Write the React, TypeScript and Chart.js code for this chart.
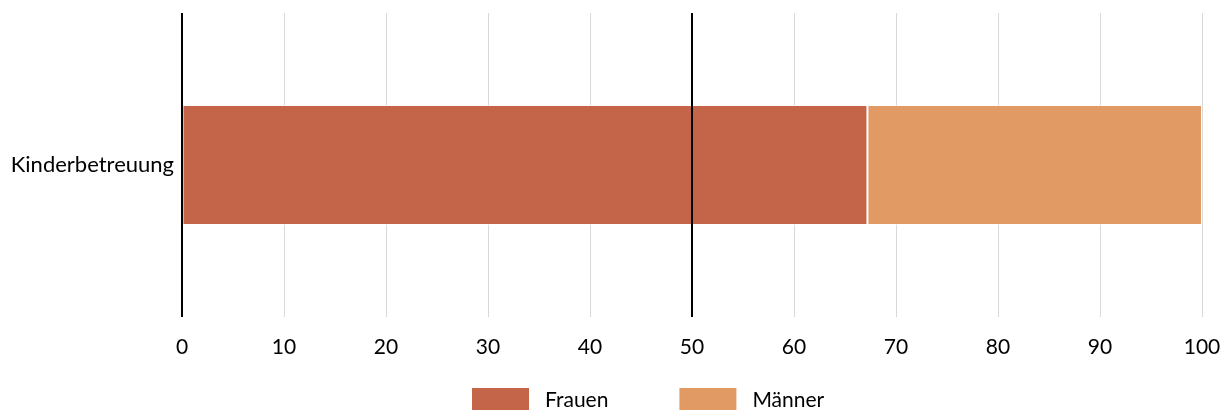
import React, { useEffect, useRef } from "react";
import { Chart, registerables } from "chart.js";

Chart.register(...registerables);

const categories = ["Kinderbetreuung"];
const seriesNames = ["Frauen", "Männer"];
const frauenValues = [67.2];
const maennerValues = [32.8];
const seriesColors = ["#C4654A", "#E29A65"];
const referenceLines = [0, 50];
const xMin = 0;
const xMax = 100;
const xStep = 10;

const FONT = "Lato, 'Open Sans', sans-serif";

const referenceLinePlugin = {
  id: "referenceLines",
  afterDatasetsDraw(chart: any) {
    const { ctx, chartArea, scales } = chart;
    const xs = scales.x;
    ctx.save();
    ctx.strokeStyle = "#000000";
    ctx.lineWidth = 2;
    for (const v of referenceLines) {
      const px = Math.round(xs.getPixelForValue(v));
      ctx.beginPath();
      ctx.moveTo(px, chartArea.top);
      ctx.lineTo(px, chartArea.bottom);
      ctx.stroke();
    }
    ctx.restore();
  },
};

const customLegendPlugin = {
  id: "customLegend",
  afterDraw(chart: any) {
    const { ctx } = chart;
    ctx.save();
    ctx.font = `21px ${FONT}`;
    ctx.textBaseline = "alphabetic";
    ctx.textAlign = "left";
    let x = 472;
    const boxW = 57;
    const boxH = 26;
    const boxTop = 388;
    chart.data.datasets.forEach((ds: any) => {
      ctx.fillStyle = ds.backgroundColor;
      ctx.fillRect(x, boxTop, boxW, boxH);
      ctx.fillStyle = "#000000";
      const tx = x + boxW + 16;
      ctx.fillText(ds.label, tx, 407);
      x = tx + ctx.measureText(ds.label).width + 71;
    });
    ctx.restore();
  },
};

export default function App() {
  const canvasRef = useRef<HTMLCanvasElement | null>(null);

  useEffect(() => {
    if (!canvasRef.current) return;
    const chart = new Chart(canvasRef.current, {
      type: "bar",
      data: {
        labels: categories,
        datasets: [
          {
            label: seriesNames[0],
            data: frauenValues,
            backgroundColor: seriesColors[0],
            borderColor: "rgba(255,255,255,0.6)",
            borderWidth: 1,
            borderSkipped: false,
            barPercentage: 0.395,
            categoryPercentage: 1,
          },
          {
            label: seriesNames[1],
            data: maennerValues,
            backgroundColor: seriesColors[1],
            borderColor: "rgba(255,255,255,0.6)",
            borderWidth: 1,
            borderSkipped: false,
            barPercentage: 0.395,
            categoryPercentage: 1,
          },
        ],
      },
      options: {
        indexAxis: "y",
        responsive: false,
        animation: false,
        events: [],
        layout: { padding: { top: 13, right: 25, bottom: 0, left: 0 } },
        plugins: {
          legend: { display: false },
          tooltip: { enabled: false },
          title: { display: false },
        },
        scales: {
          x: {
            stacked: true,
            min: xMin,
            max: xMax,
            ticks: {
              stepSize: xStep,
              color: "#000000",
              font: { family: FONT, size: 21 },
              padding: 18,
              maxRotation: 0,
            },
            grid: {
              color: "#D9D9D9",
              lineWidth: 1,
              drawTicks: false,
            },
            border: { display: false },
            afterFit(scale: any) {
              scale.height = 93;
              scale.paddingLeft = 0;
              scale.paddingRight = 0;
            },
          },
          y: {
            stacked: true,
            ticks: {
              color: "#000000",
              font: { family: FONT, size: 22 },
              padding: 8,
            },
            grid: { display: false, drawTicks: false },
            border: { display: false },
            afterFit(scale: any) {
              scale.width = 182;
              scale.paddingTop = 0;
              scale.paddingBottom = 0;
            },
          },
        },
      },
      plugins: [referenceLinePlugin, customLegendPlugin],
    });
    return () => chart.destroy();
  }, []);

  return (
    <div style={{ position: "fixed", left: 0, top: 0, width: 1227, height: 410, background: "#ffffff" }}>
      <canvas ref={canvasRef} width={1227} height={410} style={{ width: 1227, height: 410, display: "block" }} />
    </div>
  );
}
